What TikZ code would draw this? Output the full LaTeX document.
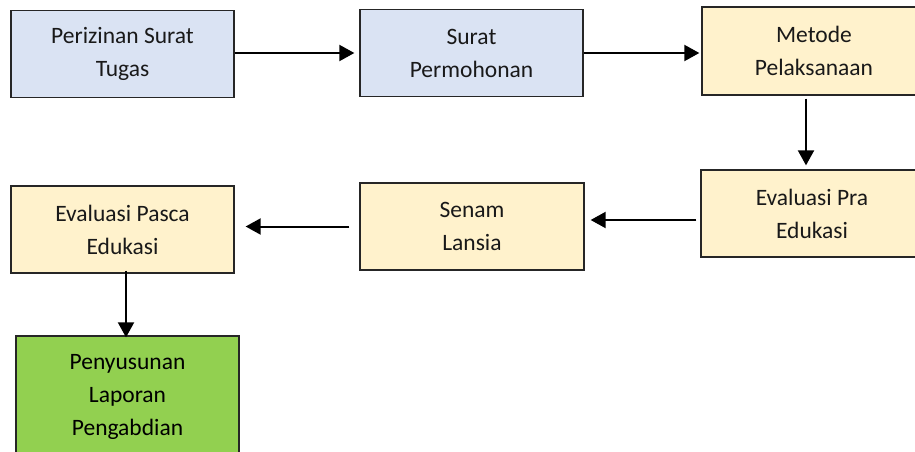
\documentclass[tikz,border=0pt]{standalone}
\usepackage{fontspec}
\setmainfont{Carlito}
\usetikzlibrary{arrows.meta,calc}
\definecolor{boxblue}{HTML}{DAE3F3}
\definecolor{boxyellow}{HTML}{FFF2CC}
\definecolor{boxgreen}{HTML}{92D050}
\definecolor{boxline}{HTML}{262626}
\tikzset{
  stepbox/.style={draw=boxline, line width=1.3pt, rectangle, align=center,
    minimum width=223pt, minimum height=87pt, inner sep=0pt,
    font=\fontsize{23.5}{33}\selectfont, text=black!90},
  flow/.style={line width=2pt, -{Triangle[length=15pt,width=16pt]}, black}
}
\begin{document}
\begin{tikzpicture}[x=1pt,y=-1pt]
\useasboundingbox (0,0) rectangle (915,452);
\clip (0,0) rectangle (915,452);
% first row
\node[stepbox, fill=boxblue] (izin) at (122.5,54) {Perizinan Surat\\Tugas};
\node[stepbox, fill=boxblue] (mohon) at (471.5,53) {Surat\\Permohonan};
\node[stepbox, fill=boxyellow, minimum width=224pt, minimum height=88pt] (metode) at (814,51) {Metode\\Pelaksanaan};
% second row
\node[stepbox, fill=boxyellow, minimum width=222pt] (pra) at (812,213.5) {Evaluasi Pra\\Edukasi};
\node[stepbox, fill=boxyellow, minimum width=224pt] (senam) at (472,226.5) {Senam\\Lansia};
\node[stepbox, fill=boxyellow] (pasca) at (122.5,229.5) {Evaluasi Pasca\\Edukasi};
% final step
\node[stepbox, fill=boxgreen, minimum height=122pt, text=black] (laporan) at (127.5,397) {Penyusunan\\Laporan\\Pengabdian};
% connectors
\draw[flow, shorten >=5pt] ([yshift=1pt]izin.east) -- ([yshift=1pt]izin.east -| mohon.west);
\draw[flow, shorten >=2pt] (mohon.east) -- (mohon.east -| metode.west);
\draw[flow, shorten <=3pt, shorten >=4pt] ([xshift=-8pt]metode.south) -- ([xshift=-8pt]metode.south |- pra.north);
\draw[flow, shorten <=4pt, shorten >=6pt] ([yshift=-6.5pt]pra.west) -- ([yshift=-6.5pt]pra.west -| senam.east);
\draw[flow, shorten <=10pt, shorten >=11pt] (senam.west) -- (senam.west -| pasca.east);
\draw[flow, shorten <=-3pt, shorten >=-2pt] ([xshift=3.5pt]pasca.south) -- ([xshift=3.5pt]pasca.south |- laporan.north);
\end{tikzpicture}
\end{document}
